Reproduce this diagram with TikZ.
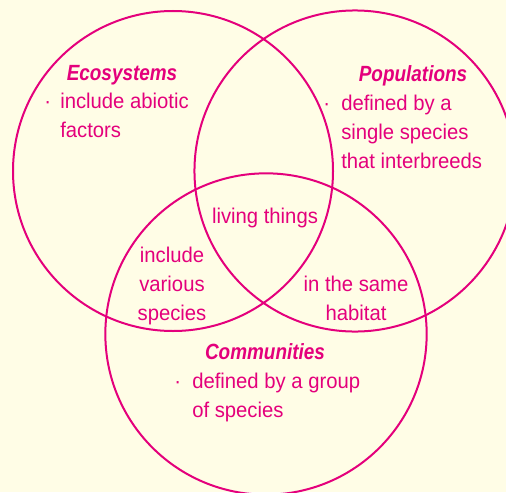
\documentclass[tikz,border=0pt]{standalone}
\usepackage{fontspec}
\setmainfont{Liberation Sans}
\newfontfamily\headfam[FakeStretch=0.86]{Liberation Sans}
\newfontfamily\bodyfam[FakeStretch=0.95]{Liberation Sans}
\definecolor{vpink}{HTML}{E4007C}
\definecolor{vcream}{HTML}{FFFDE6}
\begin{document}
\begin{tikzpicture}[x=0.75pt,y=-0.75pt,
  ring/.style={draw=vpink,line width=1.5pt},
  head/.style={anchor=base,text=vpink,inner sep=0pt,
    font=\headfam\bfseries\itshape\fontsize{16.5}{21.75}\selectfont},
  txt/.style={anchor=base west,text=vpink,inner sep=0pt,align=left,
    font=\bodyfam\fontsize{16}{21.75}\selectfont},
  mid/.style={txt,anchor=base,align=center}]
\fill[vcream] (0,0) rectangle (506,492);
\useasboundingbox (0,0) rectangle (506,492);
% the three sets
\draw[ring] (173,171) circle [radius=120pt];
\draw[ring] (355,171) circle [radius=120.4pt];
\draw[ring] (266,334) circle [radius=120.5pt];
% ecosystems (multi-line nodes sit on their last baseline)
\node[head] (eco) at (122,80) {Ecosystems};
\node[txt] (ecob) at (44,108) {·};
\node[txt] (ecot) at (60,137) {include abiotic\\factors};
% populations
\node[head] (pop) at (413,81) {Populations};
\node[txt] (popb) at (323,110) {·};
\node[txt] (popt) at (341,168) {defined by a\\single species\\that interbreeds};
% communities
\node[head] (com) at (265,359) {Communities};
\node[txt] (comb) at (174,388) {·};
\node[txt] (comt) at (192,417) {defined by a group\\of species};
% overlaps
\node[mid] (all) at (265,223) {living things};
\node[mid] (ec) at (172,320) {include\\various\\species};
\node[mid] (pc) at (356,320) {in the same\\habitat};
\end{tikzpicture}
\end{document}
